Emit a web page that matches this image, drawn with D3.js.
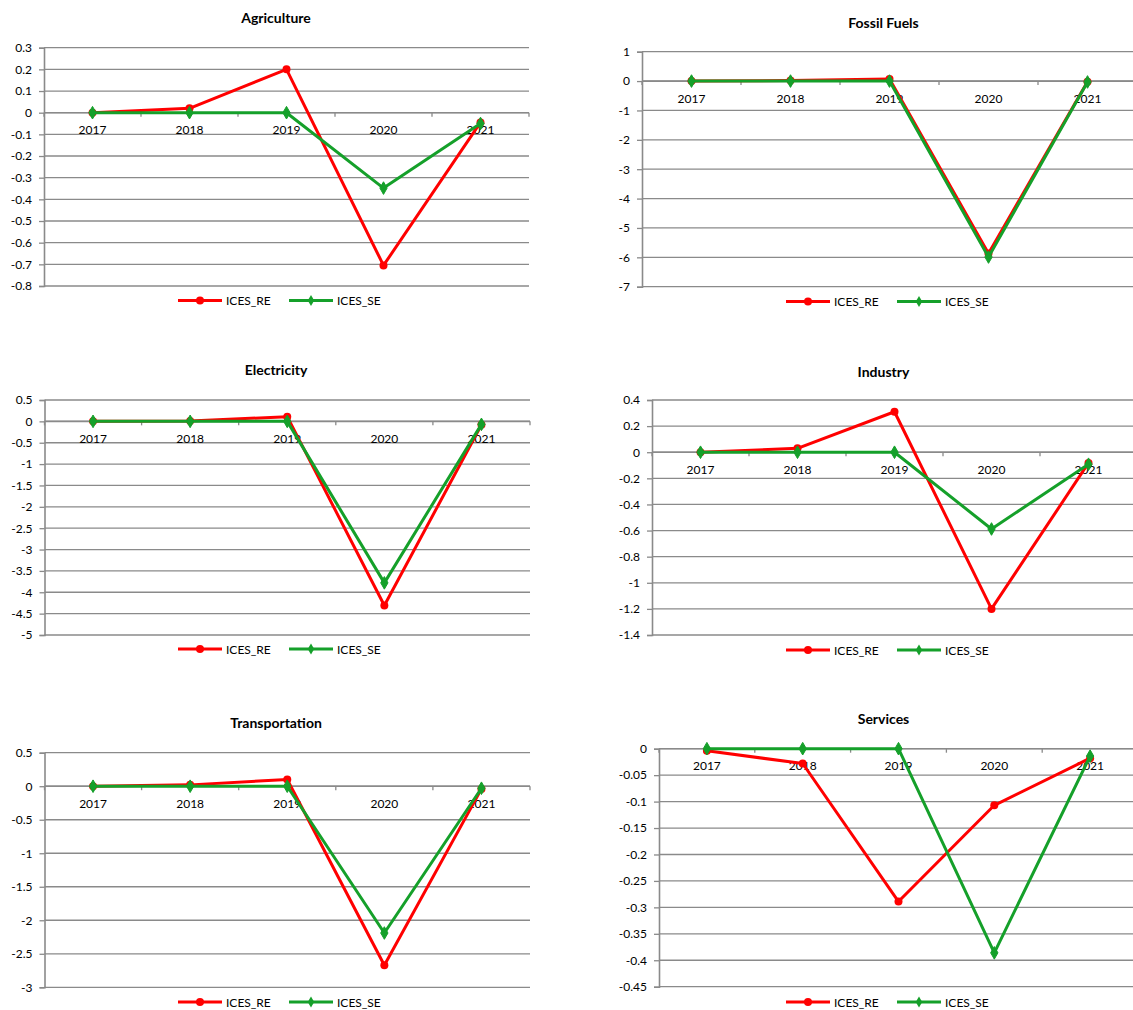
<!DOCTYPE html>
<html>
<head>
<meta charset="utf-8">
<script src="https://cdn.jsdelivr.net/npm/d3@7"></script>
<style>
  html, body { margin: 0; padding: 0; background: #fff; }
  svg { display: block; font-family: Lato, "Open Sans", "Liberation Sans", sans-serif; }
</style>
</head>
<body>
<svg id="chart" width="1133" height="1010"></svg>
<script>
// Years on the category axis
const years = ["2017", "2018", "2019", "2020", "2021"];
const seriesNames = ["ICES_RE", "ICES_SE"];
const sectorTitles = ["Agriculture", "Fossil Fuels", "Electricity", "Industry", "Transportation", "Services"];

// Series values per sector
const agriRE   = [0, 0.02, 0.2, -0.705, -0.045];
const agriSE   = [0, 0, 0, -0.348, -0.05];
const fossilRE = [0, 0.02, 0.07, -5.87, -0.02];
const fossilSE = [0, 0, 0, -5.99, -0.03];
const elecRE   = [0, 0.01, 0.11, -4.31, -0.08];
const elecSE   = [0, 0, 0, -3.78, -0.07];
const indRE    = [0, 0.03, 0.31, -1.2, -0.082];
const indSE    = [0, 0, 0, -0.588, -0.092];
const transRE  = [0, 0.02, 0.1, -2.67, -0.04];
const transSE  = [0, 0, 0, -2.19, -0.03];
const servRE   = [-0.004, -0.028, -0.289, -0.107, -0.018];
const servSE   = [0, 0, 0, -0.386, -0.014];

// Value-axis tick labels per sector
const agriTicks   = [0.3, 0.2, 0.1, 0, -0.1, -0.2, -0.3, -0.4, -0.5, -0.6, -0.7, -0.8];
const fossilTicks = [1, 0, -1, -2, -3, -4, -5, -6, -7];
const elecTicks   = [0.5, 0, -0.5, -1, -1.5, -2, -2.5, -3, -3.5, -4, -4.5, -5];
const indTicks    = [0.4, 0.2, 0, -0.2, -0.4, -0.6, -0.8, -1, -1.2, -1.4];
const transTicks  = [0.5, 0, -0.5, -1, -1.5, -2, -2.5, -3];
const servTicks   = [0, -0.05, -0.1, -0.15, -0.2, -0.25, -0.3, -0.35, -0.4, -0.45];

const sectorData = [
  { re: agriRE,   se: agriSE,   ticks: agriTicks },
  { re: fossilRE, se: fossilSE, ticks: fossilTicks },
  { re: elecRE,   se: elecSE,   ticks: elecTicks },
  { re: indRE,    se: indSE,    ticks: indTicks },
  { re: transRE,  se: transSE,  ticks: transTicks },
  { re: servRE,   se: servSE,   ticks: servTicks }
];

// Panel geometry (plot area, title and legend placement)
const layout = [
  { left: 44,  right: 529,  top: 47.7,  bottom: 286,   titleX: 276,   titleY: 17,  legendX: 280.5, legendY: 300.5 },
  { left: 642, right: 1137, top: 51.7,  bottom: 286.7, titleX: 883.5, titleY: 22,  legendX: 888.5, legendY: 301.5 },
  { left: 44.5, right: 530, top: 400,   bottom: 635,   titleX: 276,   titleY: 369, legendX: 280.5, legendY: 649 },
  { left: 652, right: 1137, top: 400,   bottom: 635,   titleX: 883.5, titleY: 371, legendX: 888.5, legendY: 650 },
  { left: 44.5, right: 530, top: 752.7, bottom: 987.3, titleX: 276,   titleY: 722, legendX: 280.5, legendY: 1002 },
  { left: 659, right: 1138, top: 748.7, bottom: 986.7, titleX: 883.5, titleY: 718, legendX: 888.5, legendY: 1002 }
];

const RED = "#ff0000";
const GREEN = "#15a02a";
const GRID = "#8a8a8a";
const TEXT = "#000";

const svg = d3.select("#chart");
svg.append("rect").attr("width", 1133).attr("height", 1010).attr("fill", "#fff");

const fmt = v => String(+v.toFixed(3));

sectorData.forEach((d, i) => {
  const L = layout[i];
  const ticks = d.ticks;
  const yMax = d3.max(ticks), yMin = d3.min(ticks);

  const x = d3.scaleBand().domain(years).range([L.left, L.right]).paddingInner(0).paddingOuter(0);
  const y = d3.scaleLinear().domain([yMin, yMax]).range([L.bottom, L.top]);
  const cx = c => x(c) + x.bandwidth() / 2;

  const g = svg.append("g");

  // Title
  g.append("text")
    .attr("x", L.titleX).attr("y", L.titleY)
    .attr("text-anchor", "middle").attr("dominant-baseline", "central")
    .attr("font-size", 14).attr("font-weight", "bold").attr("fill", TEXT)
    .text(sectorTitles[i]);

  // Horizontal gridlines
  g.append("g").selectAll("line").data(ticks).join("line")
    .attr("x1", L.left).attr("x2", L.right)
    .attr("y1", v => y(v)).attr("y2", v => y(v))
    .attr("stroke", GRID).attr("stroke-width", 1.3);

  // Value axis
  const yAxis = d3.axisLeft(y).tickValues(ticks).tickFormat(fmt).tickSize(5).tickPadding(7);
  const ya = g.append("g").attr("transform", `translate(${L.left},0)`).call(yAxis);
  ya.select(".domain").attr("stroke", GRID).attr("stroke-width", 1.6);
  ya.selectAll(".tick line").attr("stroke", GRID).attr("stroke-width", 1.3);
  ya.selectAll(".tick text").attr("font-size", 12).attr("fill", TEXT)
    .attr("font-family", "Lato, 'Open Sans', sans-serif");

  // Category axis crossing at zero: boundary tick marks and labels
  const y0 = y(0);
  const bounds = years.map(c => x(c)).concat([L.right]);
  g.append("g").selectAll("line").data(bounds).join("line")
    .attr("x1", b => b).attr("x2", b => b)
    .attr("y1", y0).attr("y2", y0 + 4)
    .attr("stroke", GRID).attr("stroke-width", 1.3);
  g.append("line")
    .attr("x1", L.left).attr("x2", L.right).attr("y1", y0).attr("y2", y0)
    .attr("stroke", GRID).attr("stroke-width", 1.6);
  g.append("g").selectAll("text").data(years).join("text")
    .attr("x", c => cx(c)).attr("y", y0 + 17)
    .attr("text-anchor", "middle").attr("dominant-baseline", "central")
    .attr("font-size", 12).attr("fill", TEXT)
    .text(c => c);

  // Series lines and markers
  const line = d3.line().x((v, k) => cx(years[k])).y(v => y(v));
  const series = [
    { vals: d.re, color: RED, shape: "circle" },
    { vals: d.se, color: GREEN, shape: "diamond" }
  ];
  series.forEach(s => {
    g.append("path").attr("d", line(s.vals))
      .attr("fill", "none").attr("stroke", s.color).attr("stroke-width", 3)
      .attr("stroke-linejoin", "round");
    if (s.shape === "circle") {
      g.append("g").selectAll("circle").data(s.vals).join("circle")
        .attr("cx", (v, k) => cx(years[k])).attr("cy", v => y(v))
        .attr("r", 4).attr("fill", s.color);
    } else {
      const sym = d3.symbol().type(d3.symbolDiamond).size(46);
      g.append("g").selectAll("path").data(s.vals).join("path")
        .attr("transform", (v, k) => `translate(${cx(years[k])},${y(v)})`)
        .attr("d", sym()).attr("fill", s.color)
        .attr("stroke", s.color).attr("stroke-width", 1).attr("stroke-linejoin", "round");
    }
  });

  // Legend
  const lg = g.append("g");
  const itemW = [111, 94];
  const totalW = itemW[0] + itemW[1];
  let lx = L.legendX - totalW / 2;
  series.forEach((s, k) => {
    const it = lg.append("g").attr("transform", `translate(${lx},${L.legendY})`);
    it.append("line").attr("x1", 0).attr("x2", 44).attr("y1", 0).attr("y2", 0)
      .attr("stroke", s.color).attr("stroke-width", 3);
    if (s.shape === "circle") {
      it.append("circle").attr("cx", 22).attr("cy", 0).attr("r", 4).attr("fill", s.color);
    } else {
      it.append("path").attr("transform", "translate(22,0)")
        .attr("d", d3.symbol().type(d3.symbolDiamond).size(36)()).attr("fill", s.color);
    }
    it.append("text").attr("x", 48).attr("y", 0)
      .attr("dominant-baseline", "central").attr("font-size", 12).attr("fill", TEXT)
      .text(seriesNames[k]);
    lx += itemW[k];
  });
});
</script>
</body>
</html>
